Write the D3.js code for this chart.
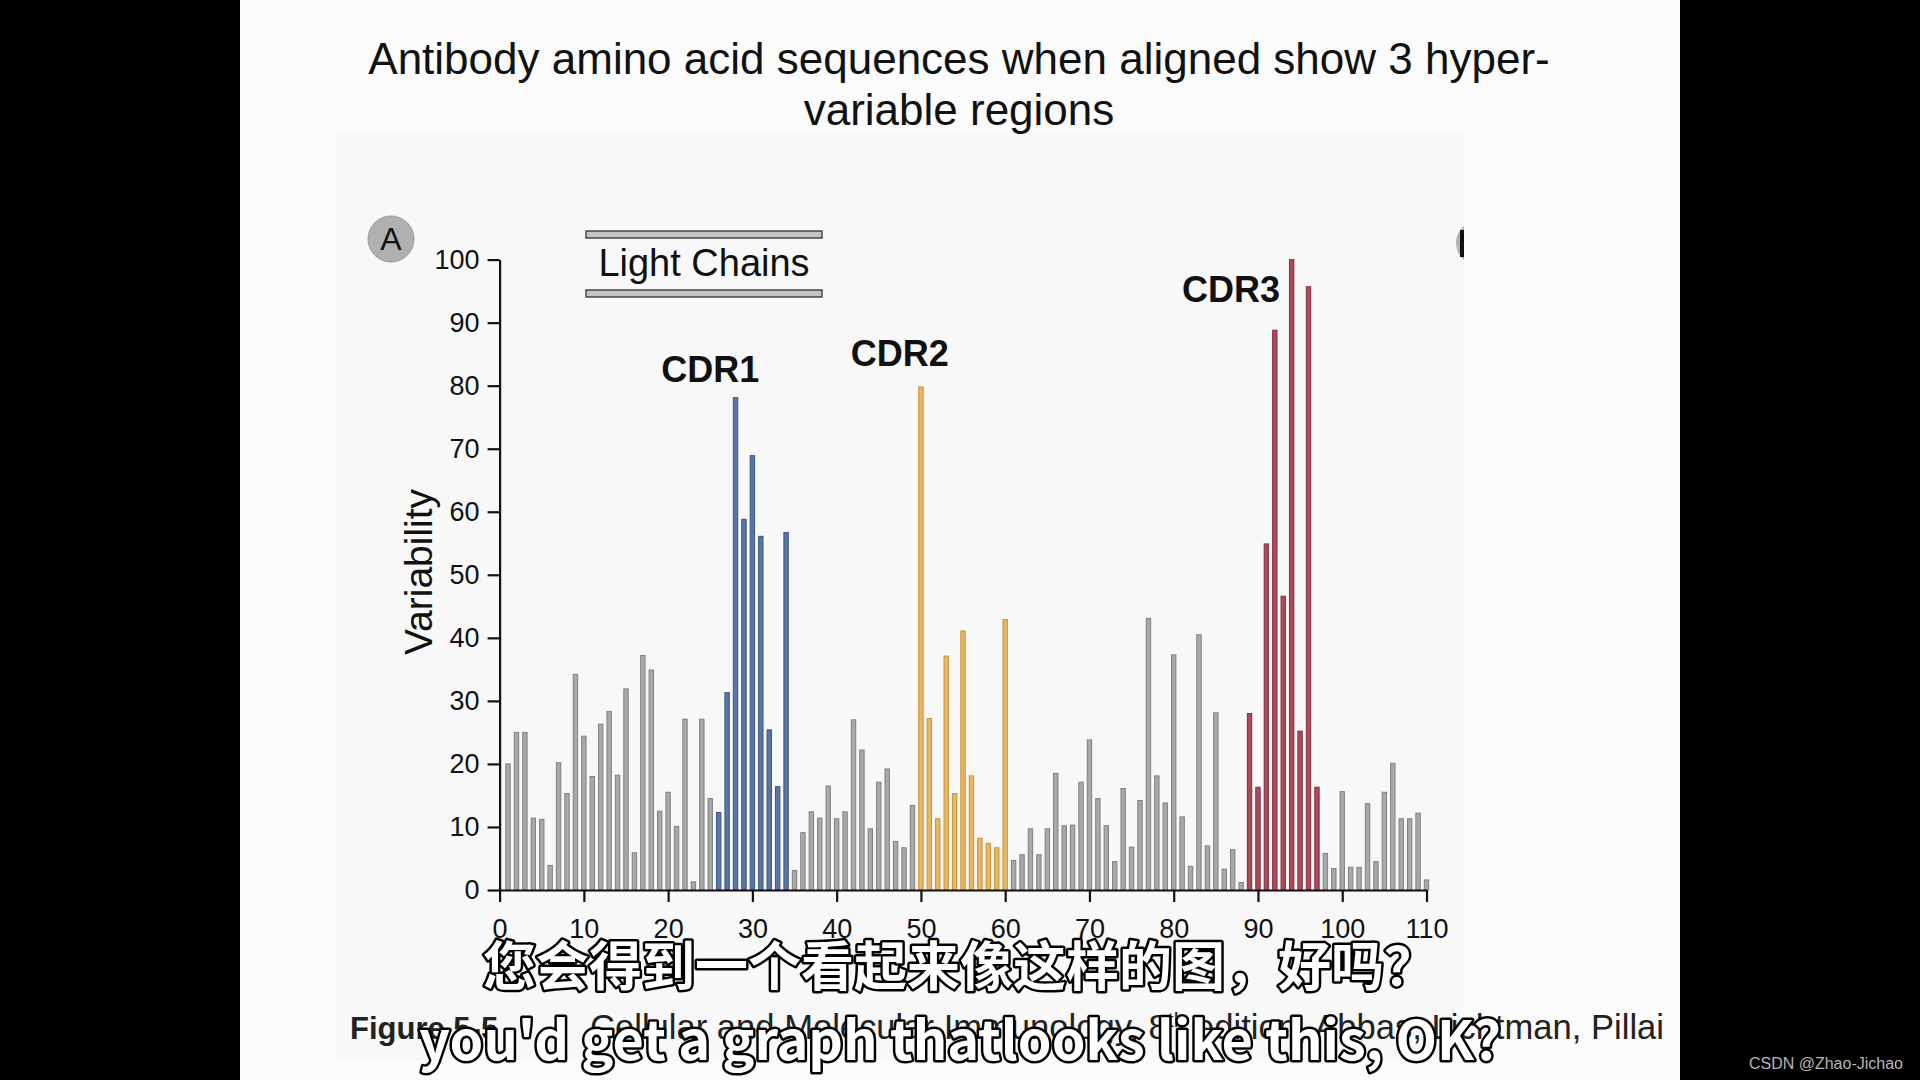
<!DOCTYPE html>
<html>
<head>
<meta charset="utf-8">
<script src="https://cdn.jsdelivr.net/npm/d3@7"></script>
<style>
  html, body { margin: 0; padding: 0; background: #000; }
  svg { display: block; }
</style>
</head>
<body>
<svg id="chart" width="1920" height="1080"></svg>
<script>
// ---------- data ----------
const positions = d3.range(1, 111);
const variability = [
  20, 25, 25, 11.4, 11.2, 3.9, 20.2, 15.3, 34.2, 24.4,
  18, 26.3, 28.3, 18.2, 31.9, 5.9, 37.2, 34.9, 12.5, 15.5,
  10.1, 27.1, 1.3, 27.1, 14.5, 12.3, 31.3, 78.1, 58.8, 68.9,
  56.1, 25.4, 16.4, 56.7, 3.1, 9.1, 12.4, 11.4, 16.5, 11.3,
  12.4, 27, 22.2, 9.7, 17.1, 19.2, 7.7, 6.7, 13.4, 79.8,
  27.2, 11.3, 37.1, 15.3, 41.1, 18.1, 8.2, 7.4, 6.7, 42.9,
  4.7, 5.6, 9.7, 5.6, 9.7, 18.5, 10.2, 10.3, 17.1, 23.8,
  14.5, 10.2, 4.5, 16.1, 6.8, 14.2, 43.1, 18.1, 13.8, 37.3,
  11.6, 3.75, 40.5, 7, 28.1, 3.3, 6.4, 1.2, 28, 16.3,
  54.9, 88.8, 46.6, 100, 25.2, 95.7, 16.3, 5.8, 3.4, 15.6,
  3.6, 3.6, 13.7, 4.5, 15.5, 20.1, 11.3, 11.3, 12.2, 1.6
];
const regionNames = ["CDR1", "CDR2", "CDR3"];
const regionStart = [26, 50, 89];
const regionEnd   = [34, 60, 97];
const regionFill   = ["#5a76a5", "#e9b760", "#ad4a58"];
const regionStroke = ["#3d5482", "#c8923a", "#86303f"];
const xTicks = d3.range(0, 111, 10);
const yTicks = d3.range(0, 101, 10);
const titleLines = ["Antibody amino acid sequences when aligned show 3 hyper-", "variable regions"];

// ---------- drawing ----------
const svg = d3.select("#chart");
svg.append("rect").attr("width", 1920).attr("height", 1080).attr("fill", "#000");
svg.append("rect").attr("x", 240).attr("y", 0).attr("width", 1440).attr("height", 1080).attr("fill", "#fbfbfb");
// faint scanned-figure area
svg.append("rect").attr("x", 335).attr("y", 130).attr("width", 1130).attr("height", 930).attr("fill", "#f8f8f8");

// title
svg.append("g").selectAll("text").data(titleLines).join("text")
  .attr("x", 959).attr("y", (d, i) => 74 + i * 51)
  .attr("text-anchor", "middle")
  .attr("font-family", "Liberation Sans, Arial, sans-serif")
  .attr("font-size", 44).attr("fill", "#111")
  .text(d => d);

const x = d3.scaleLinear().domain([0, 110]).range([499.6, 1426.5]);
const y = d3.scaleLinear().domain([0, 100]).range([890, 259.6]);

function regionIndex(p) {
  for (let i = 0; i < regionNames.length; i++) if (p >= regionStart[i] && p <= regionEnd[i]) return i;
  return -1;
}

const barW = 4.4;
svg.append("g").selectAll("rect").data(positions).join("rect")
  .attr("x", (p) => x(p) - barW / 2)
  .attr("y", (p, i) => y(variability[i]))
  .attr("width", barW)
  .attr("height", (p, i) => y(0) - y(variability[i]))
  .attr("fill", p => { const r = regionIndex(p); return r < 0 ? "#a9a9a9" : regionFill[r]; })
  .attr("stroke", p => { const r = regionIndex(p); return r < 0 ? "#808080" : regionStroke[r]; })
  .attr("stroke-width", 1);

// axes
const yAxis = svg.append("g").attr("transform", `translate(${x(0)},0)`)
  .call(d3.axisLeft(y).tickValues(yTicks).tickSize(12).tickSizeOuter(0).tickPadding(8));
const xAxis = svg.append("g").attr("transform", `translate(0,${y(0)})`)
  .call(d3.axisBottom(x).tickValues(xTicks).tickSize(12).tickSizeOuter(0).tickPadding(10));
[yAxis, xAxis].forEach(g => {
  g.selectAll("path, line").attr("stroke", "#111").attr("stroke-width", 2.2);
  g.selectAll("text").attr("font-family", "Liberation Sans, Arial, sans-serif")
    .attr("font-size", 27).attr("fill", "#111");
});
xAxis.selectAll("text").attr("dy", "0.95em");

// y label
svg.append("text")
  .attr("transform", `translate(432,572) rotate(-90)`)
  .attr("text-anchor", "middle")
  .attr("font-family", "Liberation Sans, Arial, sans-serif")
  .attr("font-size", 39).attr("fill", "#111")
  .text("Variability");

// panel letter A
svg.append("circle").attr("cx", 391).attr("cy", 239).attr("r", 23).attr("fill", "#b0b0b0").attr("stroke", "#999").attr("stroke-width", 1);
svg.append("text").attr("x", 391).attr("y", 250).attr("text-anchor", "middle")
  .attr("font-family", "Liberation Sans, Arial, sans-serif").attr("font-size", 32).attr("fill", "#111").text("A");

// panel letter B (cut off)
svg.append("clipPath").attr("id", "clipB").append("rect").attr("x", 1440).attr("y", 200).attr("width", 24).attr("height", 100);
const gB = svg.append("g").attr("clip-path", "url(#clipB)");
gB.append("circle").attr("cx", 1478).attr("cy", 243).attr("r", 22).attr("fill", "#b3b3b3");
gB.append("rect").attr("x", 1460).attr("y", 230).attr("width", 4).attr("height", 27).attr("fill", "#111");

// Light Chains label box
[231, 290].forEach(yy => {
  svg.append("rect").attr("x", 586).attr("y", yy).attr("width", 236).attr("height", 7)
    .attr("fill", "#c4c4c4").attr("stroke", "#444").attr("stroke-width", 1.5);
});
svg.append("text").attr("x", 704).attr("y", 276).attr("text-anchor", "middle")
  .attr("font-family", "Liberation Sans, Arial, sans-serif").attr("font-size", 38).attr("fill", "#111")
  .text("Light Chains");

// CDR labels (annotation anchors in data space)
const labelAt = [[25, 80.6], [47.5, 83.2], [86.8, 93.2]];
svg.append("g").selectAll("text").data(regionNames).join("text")
  .attr("x", (d, i) => x(labelAt[i][0]))
  .attr("y", (d, i) => y(labelAt[i][1]))
  .attr("text-anchor", "middle")
  .attr("font-family", "Liberation Sans, Arial, sans-serif")
  .attr("font-weight", "bold").attr("font-size", 36).attr("fill", "#111")
  .text(d => d);

// footer caption
const foot = svg.append("text").attr("x", 350).attr("y", 1039)
  .attr("font-family", "Liberation Sans, Arial, sans-serif").attr("font-size", 34.6).attr("fill", "#222");
foot.append("tspan").attr("font-weight", "bold").attr("font-size", 31).text("Figure 5-5");
foot.append("tspan").attr("x", 590).text("Cellular and Molecular Immunology, 8");
foot.append("tspan").attr("font-size", 21).attr("dy", -12).text("th");
foot.append("tspan").attr("dy", 12).text(" edition, Abbas, Lichtman, Pillai");

// subtitles
function subtitle(txt, yy, size) {
  svg.append("text").attr("x", 960).attr("y", yy).attr("text-anchor", "middle")
    .attr("font-family", "Noto Sans CJK SC, sans-serif").attr("font-weight", "bold")
    .attr("font-size", size).attr("fill", "#fff").attr("stroke", "#000").attr("stroke-width", 5)
    .attr("paint-order", "stroke").attr("stroke-linejoin", "round")
    .text(txt);
}
subtitle("您会得到一个看起来像这样的图，好吗？", 986, 53);
subtitle("you'd get a graph thatlooks like this, OK?", 1060, 54);

// watermark
svg.append("text").attr("x", 1903).attr("y", 1069).attr("text-anchor", "end")
  .attr("font-family", "Liberation Sans, Arial, sans-serif").attr("font-size", 16).attr("fill", "#b5b5b5")
  .text("CSDN @Zhao-Jichao");
</script>
</body>
</html>
